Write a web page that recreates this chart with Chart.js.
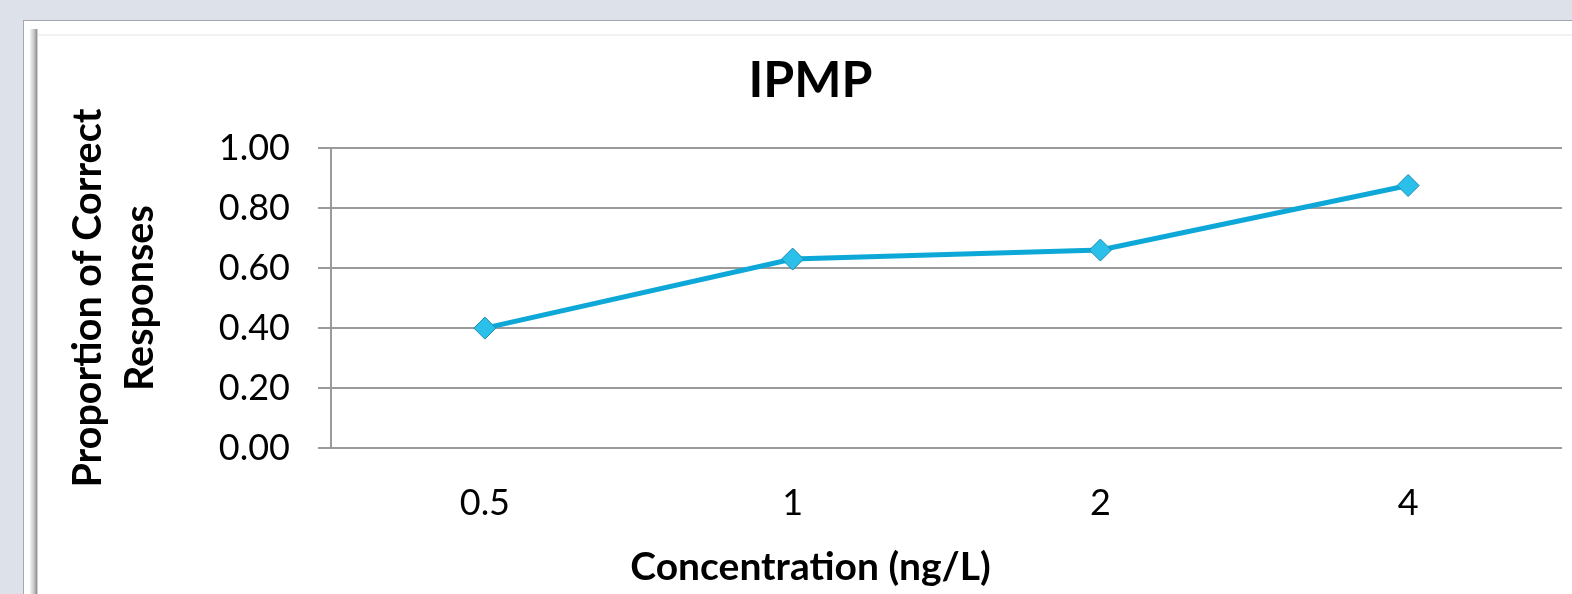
<!DOCTYPE html>
<html>
<head>
<meta charset="utf-8">
<script src="https://cdn.jsdelivr.net/npm/chart.js@4.4.1/dist/chart.umd.min.js"></script>
<style>
  html, body { margin: 0; padding: 0; width: 1572px; height: 594px; overflow: hidden; background: #dde1ea; }
  #frame { position: absolute; left: 23px; top: 20px; width: 1600px; height: 600px; background: #ffffff;
           border-left: 1px solid #a3a7b0; border-top: 1px solid #a3a7b0; }
  #shadowL { position: absolute; left: 6px; top: 8px; width: 8px; height: 600px;
             background: linear-gradient(to right, #f2f2f2, #c8c8c8 50%, #8f8f8f 85%, #ffffff); }
  #shadowT { position: absolute; left: 14px; top: 13px; width: 1600px; height: 2px; background: #f1f1f1; }
  #wrap { position: absolute; left: 0px; top: 0px; width: 1580px; height: 574px; }
</style>
</head>
<body>
<div id="frame">
  <div id="shadowL"></div>
  <div id="shadowT"></div>
  <div id="wrap"><canvas id="c"></canvas></div>
</div>
<script>
const categories = ['0.5', '1', '2', '4'];
const proportions = [0.40, 0.63, 0.66, 0.875];
const yTicks = [0, 0.2, 0.4, 0.6, 0.8, 1.0];
const chartTitle = 'IPMP';
const xTitle = 'Concentration (ng/L)';
const yTitle = ['Proportion of Correct', 'Responses'];

const FONT = "Lato, 'Open Sans', sans-serif";
const GRID = '#9a9a9a';

new Chart(document.getElementById('c'), {
  type: 'line',
  data: {
    labels: categories,
    datasets: [{
      data: proportions,
      borderColor: '#0ea8d8',
      borderWidth: 5,
      pointStyle: 'rectRot',
      pointRadius: 11,
      pointBackgroundColor: '#2bc0e9',
      pointBorderColor: '#1a8cb3',
      pointBorderWidth: 1,
      tension: 0
    }]
  },
  options: {
    responsive: true,
    maintainAspectRatio: false,
    animation: false,
    layout: { padding: { left: 35, right: 42, top: 30, bottom: 0 } },
    plugins: {
      legend: { display: false },
      tooltip: { enabled: false },
      title: {
        display: true,
        text: chartTitle,
        color: '#000',
        font: { family: FONT, size: 50, weight: 'bold', lineHeight: 1.2 },
        padding: { top: 0, bottom: 37 }
      },
      subtitle: {
        display: true,
        position: 'bottom',
        text: xTitle,
        color: '#000',
        font: { family: FONT, size: 39, weight: 'bold', lineHeight: 1.2 },
        padding: { top: 0, bottom: 4 }
      }
    },
    scales: {
      x: {
        offset: true,
        grid: { display: false, drawTicks: false },
        border: { display: false },
        ticks: { color: '#000', font: { family: FONT, size: 36 }, padding: 34 },
        afterFit: (s) => { s.height = 96; }
      },
      y: {
        min: 0, max: 1,
        afterBuildTicks: (s) => { s.ticks = yTicks.map(v => ({ value: v })); },
        grid: { color: GRID, lineWidth: 2, tickLength: 13, drawTicks: true },
        border: { display: true, color: GRID, width: 2 },
        ticks: { color: '#000', font: { family: FONT, size: 36 }, padding: 28,
                 callback: (v) => Number(v).toFixed(2) },
        title: {
          display: true, text: yTitle, color: '#000',
          font: { family: FONT, size: 39.5, weight: 'bold', lineHeight: 1.3 },
          padding: { top: 4, bottom: 4 }
        },
        afterFit: (s) => { s.width = 272; }
      }
    }
  }
});
</script>
</body>
</html>
